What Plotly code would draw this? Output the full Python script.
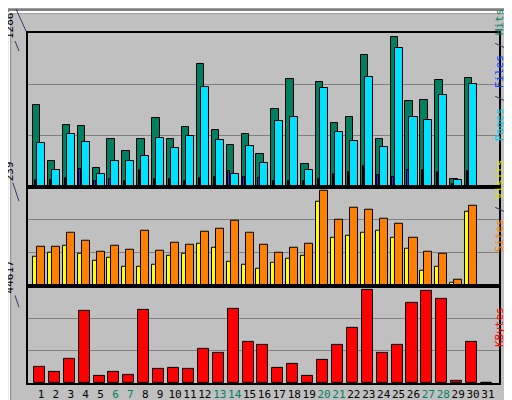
import plotly.graph_objects as go
from plotly.subplots import make_subplots

days = list(range(1, 32))
weekend = [6, 7, 13, 14, 20, 21, 27, 28]

hits = [688, 212, 518, 510, 153, 399, 297, 399, 578, 399, 501, 1028, 476, 348, 442, 272,
        654, 901, 187, 875, 535, 586, 1105, 399, 1249, 714, 722, 892, 68, 909, 0]
files = [365, 144, 442, 374, 110, 212, 212, 255, 408, 323, 425, 833, 391, 110, 340, 195,
         552, 586, 144, 824, 459, 382, 918, 331, 1164, 586, 561, 765, 59, 858, 0]
pages = [54, 59, 76, 147, 51, 68, 51, 139, 62, 68, 51, 76, 85, 136, 85, 76,
         51, 51, 51, 68, 110, 127, 170, 102, 85, 144, 144, 127, 20, 136, 0]
sites = [70, 80, 97, 77, 60, 67, 47, 47, 52, 72, 77, 102, 92, 57, 52, 42,
         55, 65, 72, 203, 115, 120, 127, 134, 117, 90, 37, 47, 7, 179, 0]
visits = [95, 95, 127, 110, 82, 97, 87, 132, 85, 105, 100, 130, 137, 157, 127, 100,
          80, 92, 102, 229, 159, 189, 184, 162, 149, 117, 82, 77, 15, 194, 0]
kbytes = [7510, 5160, 11270, 33340, 3290, 5160, 3760, 33810, 6570, 7040, 6570, 15500,
          13620, 34280, 18790, 17370, 7040, 8920, 3290, 10800, 17370, 25360, 42740,
          13620, 17370, 36630, 42270, 38520, 940, 18790, 0]

max_hits = 1286
max_visits = 239
max_kb = 44617

FONT = "DejaVu Sans Mono"

fig = make_subplots(rows=3, cols=1, shared_xaxes=True, vertical_spacing=0.0,
                    row_heights=[152, 98, 96])

def bar(y, color, offset, width, row):
    fig.add_trace(go.Bar(x=days, y=y, offset=offset, width=width, marker_color=color,
                         marker_line_color="black", marker_line_width=1, showlegend=False),
                  row=row, col=1)

bar(hits, "#008060", -0.54, 0.5, 1)
bar(files, "#00E0FF", -0.27, 0.54, 1)
bar(pages, "#0040FF", -0.42, 0.09, 1)
bar(sites, "#FFFF00", -0.54, 0.27, 2)
bar(visits, "#FF8000", -0.27, 0.54, 2)
bar(kbytes, "#FF0000", -0.47, 0.74, 3)

ticktext = [f'<span style="color:#008060">{d}</span>' if d in weekend else str(d) for d in days]

for r, m in [(1, max_hits), (2, max_visits), (3, max_kb)]:
    fig.update_yaxes(range=[0, m], tickvals=[m / 3, 2 * m / 3], showticklabels=False,
                     gridcolor="#808080", gridwidth=1, showline=True, linecolor="black",
                     linewidth=2, mirror=True, zeroline=False, automargin=False, row=r, col=1)
    fig.update_xaxes(range=[0.13, 31.74], showgrid=False, showline=True, linecolor="black",
                     linewidth=2, mirror=True, automargin=False, row=r, col=1)
fig.update_xaxes(tickvals=days, ticktext=ticktext, ticks="", tickangle=0,
                 tickfont=dict(family=FONT, size=11, color="black"), row=3, col=1)

annots = [
    dict(x=0.0, y=1.0, xref="paper", yref="paper", xanchor="left", yanchor="bottom",
         text="<b>Daily usage for June 2026</b>", font=dict(family=FONT, size=12, color="#0000FF"),
         yshift=2, xshift=-2),
]
for lbl, yref in [(str(max_hits), "y domain"), (str(max_visits), "y2 domain"), (str(max_kb), "y3 domain")]:
    annots.append(dict(x=0, y=1, xref="paper", yref=yref, xanchor="center", yanchor="middle",
                       xshift=-9, yshift=-4 - 3.5 * len(lbl),
                       text=lbl, textangle=-90, font=dict(family=FONT, size=11, color="black")))
annots += [
    dict(x=1, y=0.53, xref="paper", yref="y domain", xanchor="center", yanchor="middle", xshift=10,
         textangle=-90, font=dict(family=FONT, size=11),
         text='<span style="color:#00C8E0">Pages</span> / <span style="color:#0040FF">Files</span> / <span style="color:#008060">Hits</span>'),
    dict(x=1, y=0.5, xref="paper", yref="y2 domain", xanchor="center", yanchor="middle", xshift=10,
         textangle=-90, font=dict(family=FONT, size=11),
         text='<span style="color:#FF8000">Sites</span> / <span style="color:#E0E000">Visits</span>'),
    dict(x=1, y=0, xref="paper", yref="y3 domain", xanchor="center", yanchor="middle", xshift=10,
         yshift=26, textangle=-90, font=dict(family=FONT, size=11),
         text='<span style="color:#FF0000">KBytes</span>'),
]

shapes = [
    dict(type="rect", xref="paper", yref="paper", x0=-0.041, x1=1.035, y0=-0.073, y1=1.063,
         line=dict(color="#808080", width=5)),
    dict(type="line", xref="paper", yref="paper", x0=-0.04, x1=1.03, y0=1.06, y1=1.06,
         line=dict(color="white", width=2)),
    dict(type="line", xref="paper", yref="paper", x0=-0.04, x1=-0.04, y0=-0.07, y1=1.06,
         line=dict(color="white", width=2)),
]

fig.update_layout(width=512, height=400, margin=dict(l=20, r=21, t=25, b=25),
                  paper_bgcolor="#C0C0C0", plot_bgcolor="#C0C0C0", barmode="overlay",
                  annotations=annots, shapes=shapes, bargap=0)

fig.write_html("out.html")
